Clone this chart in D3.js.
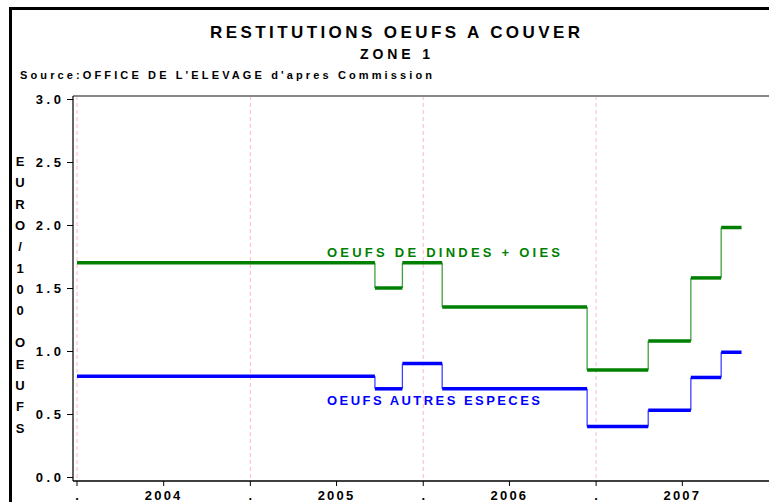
<!DOCTYPE html>
<html>
<head>
<meta charset="utf-8">
<script src="https://cdn.jsdelivr.net/npm/d3@7"></script>
<style>
  html, body { margin: 0; padding: 0; background: #fff; }
  svg { display: block; }
  text { font-family: "Liberation Sans", Arial, sans-serif; font-weight: bold; }
</style>
</head>
<body>
<svg id="chart" width="769" height="502"></svg>
<script>
// Step changes: each value applies from its start date until the next one
const periodStarts = ["2004-01-01", "2005-09-21", "2005-11-18", "2006-02-10",
                      "2006-12-13", "2007-04-21", "2007-07-20", "2007-09-22"];
const periodEnd = "2007-11-04";
const dindesOies = [1.70, 1.50, 1.70, 1.35, 0.85, 1.08, 1.58, 1.98];
const autresEspeces = [0.80, 0.70, 0.90, 0.70, 0.40, 0.53, 0.79, 0.99];
const seriesNames = ["OEUFS DE DINDES + OIES", "OEUFS AUTRES ESPECES"];
const yTicks = [0, 0.5, 1.0, 1.5, 2.0, 2.5, 3.0];
const yearLabels = ["2004", "2005", "2006", "2007"];

const parse = d3.utcParse("%Y-%m-%d");
const svg = d3.select("#chart");

const x = d3.scaleUtc()
  .domain([parse("2004-01-01"), parse("2008-01-01")])
  .range([77, 769]);
const y = d3.scaleLinear().domain([0, 3]).range([477, 99]);

const plotLeft = 73, plotTop = 96, plotBottom = 481, plotRight = 769;

// page frame
svg.append("line").attr("x1", 10.5).attr("x2", 769).attr("y1", 8.5).attr("y2", 8.5)
  .attr("stroke", "#000").attr("stroke-width", 3);
svg.append("line").attr("x1", 10.5).attr("x2", 10.5).attr("y1", 7).attr("y2", 502)
  .attr("stroke", "#000").attr("stroke-width", 3);

// titles
svg.append("text").attr("x", 395).attr("y", 38).attr("text-anchor", "middle")
  .attr("font-size", 17).attr("textLength", 370).attr("lengthAdjust", "spacing")
  .text("RESTITUTIONS OEUFS A COUVER");
svg.append("text").attr("x", 395).attr("y", 59).attr("text-anchor", "middle")
  .attr("font-size", 14).attr("textLength", 70).attr("lengthAdjust", "spacing")
  .text("ZONE 1");
svg.append("text").attr("x", 20).attr("y", 79)
  .attr("font-size", 11).attr("textLength", 412).attr("lengthAdjust", "spacing")
  .text("Source:OFFICE DE L'ELEVAGE d'apres Commission");

// year boundary grid lines
const boundaries = d3.utcYear.range(parse("2004-01-01"), parse("2008-01-01"));
svg.append("g").selectAll("line").data(boundaries).join("line")
  .attr("x1", d => x(d)).attr("x2", d => x(d))
  .attr("y1", plotTop).attr("y2", plotBottom)
  .attr("stroke", "#ffb6c8").attr("stroke-width", 1).attr("stroke-dasharray", "4,3");

// plot top edge
svg.append("line").attr("x1", plotLeft).attr("x2", plotRight)
  .attr("y1", plotTop).attr("y2", plotTop).attr("stroke", "#888").attr("stroke-width", 2);

// y axis
const yAxis = svg.append("g").attr("transform", `translate(${plotLeft},0)`)
  .call(d3.axisLeft(y).tickValues(yTicks).tickSize(6).tickPadding(6)
    .tickFormat(d => d3.format(".1f")(d).split("").join(" ")));
yAxis.select(".domain").attr("d", `M0,${plotTop}V${plotBottom}`).attr("stroke", "#000").attr("stroke-width", 1.2);
yAxis.selectAll(".tick line").attr("stroke", "#000");
yAxis.selectAll("text").attr("font-size", 13).attr("fill", "#000")
  .style("font-family", "'Liberation Sans', Arial, sans-serif").style("font-weight", "bold");

// x axis: ticks at year boundaries (dots) and mid-year (year labels)
const xg = svg.append("g").attr("transform", `translate(0,${plotBottom})`);
xg.append("line").attr("x1", plotLeft).attr("x2", plotRight).attr("y1", 0).attr("y2", 0)
  .attr("stroke", "#000").attr("stroke-width", 1.5);
const mids = yearLabels.map(yr => new Date(Date.UTC(+yr, 6, 2)));
xg.selectAll(".bt").data(boundaries).join("line").attr("class", "bt")
  .attr("x1", d => x(d)).attr("x2", d => x(d)).attr("y1", 0).attr("y2", 5).attr("stroke", "#000");
xg.selectAll(".bl").data(boundaries).join("text").attr("class", "bl")
  .attr("x", d => x(d)).attr("y", 19).attr("text-anchor", "middle").attr("font-size", 13).text(".");
xg.selectAll(".mt").data(mids).join("line").attr("class", "mt")
  .attr("x1", d => x(d)).attr("x2", d => x(d)).attr("y1", 0).attr("y2", 5).attr("stroke", "#000");
xg.selectAll(".ml").data(mids).join("text").attr("class", "ml")
  .attr("x", d => x(d)).attr("y", 19).attr("text-anchor", "middle").attr("font-size", 13)
  .attr("letter-spacing", 2.2).text((d, i) => yearLabels[i]);

// y axis title, stacked vertically
const yTitle = "EURO/100 OEUFS".split("");
let yy = 166;
const yTitleG = svg.append("g");
yTitle.forEach(ch => {
  if (ch === " ") { yy += 11; return; }
  yTitleG.append("text").attr("x", 20).attr("y", yy).attr("text-anchor", "middle")
    .attr("font-size", 13).text(ch);
  yy += 21.3;
});

// step series
function drawSeries(values, color) {
  const starts = periodStarts.map(parse);
  const ends = starts.slice(1).concat([parse(periodEnd)]);
  const g = svg.append("g");
  // vertical connectors
  g.selectAll(".v").data(values.slice(1)).join("line")
    .attr("x1", (d, i) => x(starts[i + 1])).attr("x2", (d, i) => x(starts[i + 1]))
    .attr("y1", (d, i) => y(values[i])).attr("y2", d => y(d))
    .attr("stroke", color).attr("stroke-width", 1.3).attr("stroke-opacity", 0.75);
  // horizontal levels
  g.selectAll(".h").data(values).join("line")
    .attr("x1", (d, i) => x(starts[i])).attr("x2", (d, i) => x(ends[i]))
    .attr("y1", d => y(d)).attr("y2", d => y(d))
    .attr("stroke", color).attr("stroke-width", 3.5);
}
drawSeries(dindesOies, "#008000");
drawSeries(autresEspeces, "#0000ff");

// series labels
svg.append("text").attr("x", 327).attr("y", 257).attr("font-size", 13).attr("fill", "#008000")
  .attr("textLength", 233).attr("lengthAdjust", "spacing").text(seriesNames[0]);
svg.append("text").attr("x", 327).attr("y", 405).attr("font-size", 13).attr("fill", "#0000ff")
  .attr("textLength", 213).attr("lengthAdjust", "spacing").text(seriesNames[1]);
</script>
</body>
</html>
